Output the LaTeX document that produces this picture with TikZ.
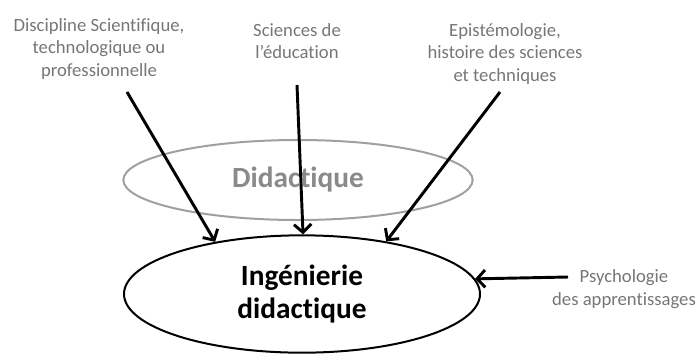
\documentclass[tikz,border=0pt]{standalone}
\usepackage{fontspec}
\setmainfont{Carlito}[Ligatures={NoCommon}]
\usepackage{tikz}
\usetikzlibrary{shapes,arrows.meta,positioning}
\definecolor{labelgray}{RGB}{118,118,118}
\definecolor{didgray}{RGB}{138,138,138}
\definecolor{ringgray}{RGB}{160,160,160}

\begin{document}
\begin{tikzpicture}[x=0.75pt,y=-0.75pt,
    source/.style={text=labelgray, align=center, font=\fontsize{14}{17}\selectfont},
    feed/.style={-{Straight Barb[length=6pt,width=13pt]}, line width=2.2pt, black},
    blob/.style={ellipse, draw, line width=1.5pt, align=center, inner sep=0pt}]
    \useasboundingbox (0,0) rectangle (698,354);
    % outer ring and core
    \node[blob, draw=ringgray, minimum width=262pt, minimum height=60pt, text=didgray,
          font=\fontsize{22}{26}\selectfont\bfseries] (did) at (298,180) {Didactique};
    \node[blob, minimum width=267pt, minimum height=88pt,
          font=\fontsize{22}{25}\selectfont\bfseries] (ing) at (302,294) {Ingénierie\\didactique};

    % sources
    \node[source] (disc) at (99,49) {Discipline Scientifique,\\technologique ou\\professionnelle};
    \node[source] (sci) at (297,41) {Sciences de\\l’éducation};
    \node[source] (epi) at (505,54) {Epistémologie,\\histoire des sciences\\et techniques};
    \node[source] (psy) at (624,289) {Psychologie\\des apprentissages};

    \coordinate (discend) at (127,92);
    \coordinate (sciend) at (297,85);
    \coordinate (epiend) at (500,92);
    \coordinate (psyend) at (568,277);

    \draw[feed] (discend) -- (ing.149);
    \draw[feed] (sciend) -- (ing.89);
    \draw[feed] (epiend) -- (ing.32);
    \draw[feed] (psyend) -- (ing.5);
\end{tikzpicture}
\end{document}
